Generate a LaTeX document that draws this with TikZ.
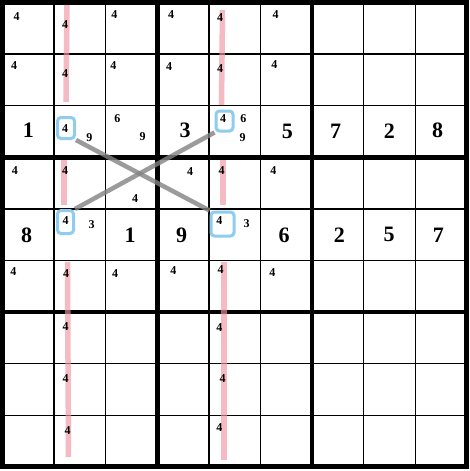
\documentclass[tikz,border=0pt]{standalone}
\usepackage{fontspec}
\setmainfont{Liberation Serif}
\definecolor{pinkline}{RGB}{240,150,162}
\definecolor{skybox}{RGB}{140,205,240}
\definecolor{crossgray}{RGB}{130,130,130}
\begin{document}
\begin{tikzpicture}[x=1pt,y=-1pt,
  big/.style={font=\fontsize{22}{22}\selectfont\bfseries, inner sep=0pt},
  small/.style={font=\fontsize{12}{12}\selectfont\bfseries, inner sep=0pt},
  thinrule/.style={line width=1.5pt},
  thickrule/.style={line width=4.5pt},
  redmark/.style={draw=pinkline, line width=5.5pt, opacity=0.65},
  bluebox/.style={draw=skybox, line width=3pt, rounded corners=3.5pt, inner sep=0pt},
  crossline/.style={draw=crossgray, line width=4.5pt, opacity=0.8}]
\useasboundingbox (0,0) rectangle (470,471);
\fill[white] (0,0) rectangle (470,471);
% grid
\foreach \i in {1,2,4,5,7,8} {
  \draw[thinrule] (2.5+\i*51.6,2.5) -- (2.5+\i*51.6,466.9);
  \draw[thinrule] (2.5,2.5+\i*51.6) -- (466.9,2.5+\i*51.6);
}
\foreach \i in {3,6} {
  \draw[thickrule] (2.5+\i*51.6,2.5) -- (2.5+\i*51.6,466.9);
  \draw[thickrule] (2.5,2.5+\i*51.6) -- (466.9,2.5+\i*51.6);
}
\draw[line width=5pt] (2.5,2.5) rectangle (466.9,466.9);
% red marks
\draw[redmark] (67,5) -- (66,102);
\draw[redmark] (222.5,10) -- (221.5,105);
\draw[redmark] (64,160) -- (64,205);
\draw[redmark] (223,160) -- (223,205);
\draw[redmark] (67.5,262) -- (68.5,457);
\draw[redmark] (224,262) -- (224,460);
% blue boxes
\node[bluebox, minimum width=17pt, minimum height=21pt] (b32) at (66,128) {};
\node[bluebox, minimum width=17pt, minimum height=20pt] (b35) at (224.5,121) {};
\node[bluebox, minimum width=16pt, minimum height=23pt] (b52) at (65.5,222) {};
\node[bluebox, minimum width=23pt, minimum height=24pt] (b55) at (222.5,224) {};
% cross lines
\draw[crossline] (b32.south east) -- (b55.north west);
\draw[crossline] (b52.north east) -- (b35.south west);
% big digits
\node[big] (r3c1) at (28.3,130) {1};
\node[big] (r3c4) at (185,130.5) {3};
\node[big] (r3c6) at (287.3,131.5) {5};
\node[big] (r3c7) at (335.5,131.5) {7};
\node[big] (r3c8) at (389.3,131.5) {2};
\node[big] (r3c9) at (437.7,130.7) {8};
\node[big] (r5c1) at (26.7,235) {8};
\node[big] (r5c3) at (130,235.5) {1};
\node[big] (r5c4) at (181.7,235.5) {9};
\node[big] (r5c6) at (284,235.5) {6};
\node[big] (r5c7) at (339.3,235.5) {2};
\node[big] (r5c8) at (389,234.5) {5};
\node[big] (r5c9) at (438.3,235.5) {7};
% small candidates
\node[small] (a11) at (16.7,16.5) {4};
\node[small] (a12) at (65,25) {4};
\node[small] (a13) at (114.3,15) {4};
\node[small] (a14) at (171,15) {4};
\node[small] (a15) at (220,17.3) {4};
\node[small] (a16) at (275.5,15) {4};
\node[small] (a21) at (14,66) {4};
\node[small] (a22) at (65,74) {4};
\node[small] (a23) at (113.3,65.5) {4};
\node[small] (a24) at (169,66.7) {4};
\node[small] (a25) at (220,68.3) {4};
\node[small] (a26) at (274.3,65) {4};
\node[small] (a32) at (65,128.3) {4};
\node[small] (n329) at (89.3,137.3) {9};
\node[small] (n336) at (117.3,118.3) {6};
\node[small] (n339) at (142.7,136.7) {9};
\node[small] (a35) at (223,119) {4};
\node[small] (n356) at (243.3,119) {6};
\node[small] (n359) at (242.5,137.3) {9};
\node[small] (a41) at (15,170.7) {4};
\node[small] (a42) at (65,170.7) {4};
\node[small] (a43) at (135,198.3) {4};
\node[small] (a44) at (190,171.5) {4};
\node[small] (a45) at (221.7,170.7) {4};
\node[small] (a46) at (273.3,170.7) {4};
\node[small] (a52) at (65.7,221) {4};
\node[small] (n523) at (91.7,225) {3};
\node[small] (a55) at (219.3,221) {4};
\node[small] (n553) at (246.7,223.3) {3};
\node[small] (a61) at (13.3,271.5) {4};
\node[small] (a62) at (66,273.3) {4};
\node[small] (a63) at (115,273.3) {4};
\node[small] (a64) at (173.3,271) {4};
\node[small] (a65) at (220.7,270) {4};
\node[small] (a66) at (272.3,272.3) {4};
\node[small] (a72) at (65.7,326.7) {4};
\node[small] (a82) at (65.7,379) {4};
\node[small] (a92) at (67.7,430.7) {4};
\node[small] (a75) at (219.3,327.7) {4};
\node[small] (a85) at (222.7,378.3) {4};
\node[small] (a95) at (219.3,427.3) {4};
\end{tikzpicture}
\end{document}
